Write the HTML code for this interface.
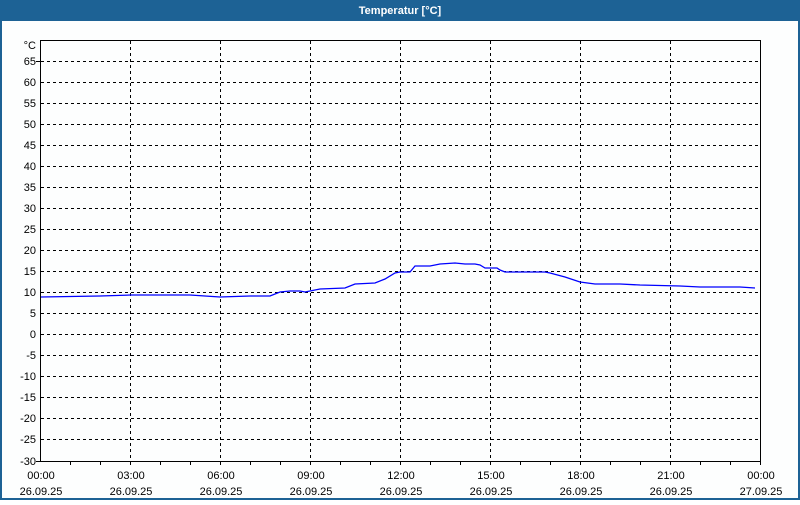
<!DOCTYPE html>
<html><head><style>
body{margin:0;width:800px;height:500px;overflow:hidden;background:#fff;font-family:"Liberation Sans",sans-serif}
</style></head><body>
<svg width="800" height="500" xmlns="http://www.w3.org/2000/svg" font-family="Liberation Sans, sans-serif" font-size="11">
<rect x="0" y="0" width="800" height="500" fill="#1d6295"/>
<rect x="2" y="21" width="796" height="477" fill="#fdfefe"/>
<text x="400" y="14" fill="#fff" font-weight="bold" text-anchor="middle">Temperatur [°C]</text>
<rect x="40.5" y="40.5" width="720" height="421" fill="none" stroke="#000"/>
<g stroke="#000" stroke-dasharray="3,3">
<line x1="41" x2="760" y1="61.5" y2="61.5"/><line x1="41" x2="760" y1="82.5" y2="82.5"/><line x1="41" x2="760" y1="103.5" y2="103.5"/><line x1="41" x2="760" y1="124.5" y2="124.5"/><line x1="41" x2="760" y1="145.5" y2="145.5"/><line x1="41" x2="760" y1="166.5" y2="166.5"/><line x1="41" x2="760" y1="187.5" y2="187.5"/><line x1="41" x2="760" y1="208.5" y2="208.5"/><line x1="41" x2="760" y1="229.5" y2="229.5"/><line x1="41" x2="760" y1="250.5" y2="250.5"/><line x1="41" x2="760" y1="271.5" y2="271.5"/><line x1="41" x2="760" y1="292.5" y2="292.5"/><line x1="41" x2="760" y1="313.5" y2="313.5"/><line x1="41" x2="760" y1="334.5" y2="334.5"/><line x1="41" x2="760" y1="355.5" y2="355.5"/><line x1="41" x2="760" y1="376.5" y2="376.5"/><line x1="41" x2="760" y1="397.5" y2="397.5"/><line x1="41" x2="760" y1="418.5" y2="418.5"/><line x1="41" x2="760" y1="439.5" y2="439.5"/>
<line x1="130.5" x2="130.5" y1="41" y2="461"/><line x1="220.5" x2="220.5" y1="41" y2="461"/><line x1="310.5" x2="310.5" y1="41" y2="461"/><line x1="400.5" x2="400.5" y1="41" y2="461"/><line x1="490.5" x2="490.5" y1="41" y2="461"/><line x1="580.5" x2="580.5" y1="41" y2="461"/><line x1="670.5" x2="670.5" y1="41" y2="461"/>
</g>
<g stroke="#000">
<line x1="36" x2="40" y1="61.5" y2="61.5"/><line x1="36" x2="40" y1="461.5" y2="461.5"/>
<line x1="70.5" x2="70.5" y1="461" y2="465"/><line x1="100.5" x2="100.5" y1="461" y2="465"/><line x1="130.5" x2="130.5" y1="461" y2="465"/><line x1="160.5" x2="160.5" y1="461" y2="465"/><line x1="190.5" x2="190.5" y1="461" y2="465"/><line x1="220.5" x2="220.5" y1="461" y2="465"/><line x1="250.5" x2="250.5" y1="461" y2="465"/><line x1="280.5" x2="280.5" y1="461" y2="465"/><line x1="310.5" x2="310.5" y1="461" y2="465"/><line x1="340.5" x2="340.5" y1="461" y2="465"/><line x1="370.5" x2="370.5" y1="461" y2="465"/><line x1="400.5" x2="400.5" y1="461" y2="465"/><line x1="430.5" x2="430.5" y1="461" y2="465"/><line x1="460.5" x2="460.5" y1="461" y2="465"/><line x1="490.5" x2="490.5" y1="461" y2="465"/><line x1="520.5" x2="520.5" y1="461" y2="465"/><line x1="550.5" x2="550.5" y1="461" y2="465"/><line x1="580.5" x2="580.5" y1="461" y2="465"/><line x1="610.5" x2="610.5" y1="461" y2="465"/><line x1="640.5" x2="640.5" y1="461" y2="465"/><line x1="670.5" x2="670.5" y1="461" y2="465"/><line x1="700.5" x2="700.5" y1="461" y2="465"/><line x1="730.5" x2="730.5" y1="461" y2="465"/><line x1="760.5" x2="760.5" y1="461" y2="465"/>
</g>
<g text-anchor="end" fill="#000">
<text x="36" y="49">°C</text>
<text x="36" y="65">65</text><text x="36" y="86">60</text><text x="36" y="107">55</text><text x="36" y="128">50</text><text x="36" y="149">45</text><text x="36" y="170">40</text><text x="36" y="191">35</text><text x="36" y="212">30</text><text x="36" y="233">25</text><text x="36" y="254">20</text><text x="36" y="275">15</text><text x="36" y="296">10</text><text x="36" y="317">5</text><text x="36" y="338">0</text><text x="36" y="359">-5</text><text x="36" y="380">-10</text><text x="36" y="401">-15</text><text x="36" y="422">-20</text><text x="36" y="443">-25</text><text x="36" y="465">-30</text>
</g>
<g text-anchor="middle" fill="#000">
<text x="41" y="479">00:00</text><text x="41" y="495">26.09.25</text>
<text x="131" y="479">03:00</text><text x="131" y="495">26.09.25</text>
<text x="221" y="479">06:00</text><text x="221" y="495">26.09.25</text>
<text x="311" y="479">09:00</text><text x="311" y="495">26.09.25</text>
<text x="401" y="479">12:00</text><text x="401" y="495">26.09.25</text>
<text x="491" y="479">15:00</text><text x="491" y="495">26.09.25</text>
<text x="581" y="479">18:00</text><text x="581" y="495">26.09.25</text>
<text x="671" y="479">21:00</text><text x="671" y="495">26.09.25</text>
<text x="761" y="479">00:00</text><text x="761" y="495">27.09.25</text>
</g>
<polyline fill="none" stroke="#0000ff" stroke-width="1.3" points="41,297 100,296 131,295 190,295 220,297 250,296 270,296 280,292 290,291 300,291 305,292 320,289 345,288 355,284 375,283 385,279 395,273 400,272 410,272 415,266 430,266 440,264 455,263 465,264 475,264 480,265 485,268 497,268 500,270 505,272 545,272 550,273 565,277 580,282 595,284 620,284 640,285 680,286 700,287 720,287 740,287 755,288"/>
</svg>
</body></html>
